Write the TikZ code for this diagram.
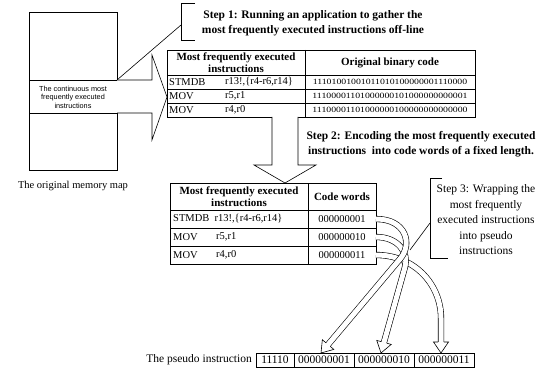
\documentclass[tikz,border=0pt]{standalone}
\usepackage{fontspec}
\setmainfont{Liberation Serif}
\setsansfont{Liberation Sans}
\usetikzlibrary{calc}
\tikzset{
  thin/.style={line width=0.6pt},
  frame/.style={line width=0.8pt},
  txt/.style={inner sep=0pt, font=\fontsize{10.5}{12}\selectfont},
  lefttxt/.style={txt, anchor=west},
  hdr/.style={inner sep=0pt, align=center, font=\bfseries\fontsize{11}{12.5}\selectfont},
  steptxt/.style={inner sep=0pt, align=center, font=\bfseries\fontsize{11.5}{15}\selectfont},
  bin/.style={inner sep=0pt},
  boxtxt/.style={inner sep=0pt, font=\fontsize{11.5}{12}\selectfont},
  hollow/.style={double=white, double distance=5pt, line width=0.6pt, shorten >=10.5pt},
}
\newcommand{\hollowhead}[2]{%
  \path ($(#2)!11pt!(#1)$) coordinate (hb);
  \filldraw[fill=white, line width=0.6pt]
    ($(hb)!2.8pt!90:(#2)$) -- ($(hb)!7.5pt!90:(#2)$) -- (#2) --
    ($(hb)!7.5pt!-90:(#2)$) -- ($(hb)!2.8pt!-90:(#2)$);
}
\newcommand{\binstr}[1]{\scalebox{1.22}[1]{\fontsize{8}{8}\selectfont #1}}
\begin{document}
\begin{tikzpicture}[x=1pt,y=-1pt]
\useasboundingbox (0,0) rectangle (539,369);

% ---------- memory map ----------
\coordinate (mmTL) at (29,12);
\coordinate (mmBR) at (117,170);
\coordinate (mmR1) at (117,80);
\coordinate (mmR2) at (117,113);
\draw[thin] (mmTL) rectangle (mmBR);
\draw[thin] (29,80) -- (mmR1);
\draw[thin] (29,113) -- (mmR2);
\node[inner sep=0pt, align=center, font=\sffamily\fontsize{7.3}{8.6}\selectfont] (mmtext) at (73,97)
  {The continuous most\\frequently executed\\instructions};
\node[txt] (mmlabel) at (73,186) {The original memory map};

% ---------- big right arrow ----------
\filldraw[thin, fill=white] (mmR1) -- (152,80) -- (152,55) -- (167,97) -- (152,140) -- (152,113) -- (mmR2);

% ---------- step 1 ----------
\coordinate (b1top) at (195,3);
\coordinate (b1bot) at (195,40);
\coordinate (b1call) at (181,25);
\draw[thin] (b1top) -- (181,3) -- (181,40) -- (b1bot);
\draw[thin] (mmR1) -- (b1call);
\node[steptxt] (step1) at (313,23)
  {Step 1: Running an application to gather the\\most frequently executed instructions off-line};

% ---------- table 1 ----------
\draw[frame] (167,50) rectangle (475,117);
\draw[thin] (305,50) -- (305,117);
\draw[thin] (167,75) -- (475,75);
\draw[thin] (167,89) -- (475,89);
\draw[thin] (167,103) -- (475,103);
\node[hdr] (t1h1) at (236,62.5) {Most frequently executed\\instructions};
\node[hdr] (t1h2) at (390,62.5) {Original binary code};
\node[lefttxt] (t1r1a) at (169,82) {STMDB};
\node[lefttxt] (t1r1b) at (225,82) {r13!,\{r4-r6,r14\}};
\node[lefttxt] (t1r2a) at (169,96) {MOV};
\node[lefttxt] (t1r2b) at (225,96) {r5,r1};
\node[lefttxt] (t1r3a) at (169,110) {MOV};
\node[lefttxt] (t1r3b) at (225,110) {r4,r0};
\node[bin] (t1c1) at (390,82) {\binstr{11101001001011010100000001110000}};
\node[bin] (t1c2) at (390,96) {\binstr{11100001101000000101000000000001}};
\node[bin] (t1c3) at (390,110) {\binstr{11100001101000000100000000000000}};

% ---------- big down arrow ----------
\filldraw[thin, fill=white] (272,117) -- (272,165) -- (254,165) -- (285,183) -- (316,165) -- (298,165) -- (298,117);

% ---------- step 2 ----------
\node[steptxt] (step2) at (421,144.5)
  {Step 2: Encoding the most frequently executed\\instructions\ \ into code words of a fixed length.};

% ---------- table 2 ----------
\draw[frame] (170,183) rectangle (376,264);
\draw[thin] (308,183) -- (308,264);
\draw[thin] (170,210) -- (376,210);
\draw[thin] (170,228) -- (376,228);
\draw[thin] (170,246) -- (376,246);
\node[hdr] (t2h1) at (239,196.5) {Most frequently executed\\instructions};
\node[hdr] (t2h2) at (342,196.5) {Code words};
\node[lefttxt] (t2r1a) at (173,219) {STMDB\ \ r13!,\{r4-r6,r14\}};
\node[lefttxt] (t2r2a) at (173,237) {MOV};
\node[lefttxt] (t2r2b) at (216,237) {r5,r1};
\node[lefttxt] (t2r3a) at (173,255) {MOV};
\node[lefttxt] (t2r3b) at (216,255) {r4,r0};
\node[txt] (cw1) at (342,219) {000000001};
\node[txt] (cw2) at (342,237) {000000010};
\node[txt] (cw3) at (342,255) {000000011};

% ---------- step 3 ----------
\coordinate (b3top) at (442,178);
\coordinate (b3bot) at (448,258);
\coordinate (b3call) at (430,223);
\coordinate (b3end) at (410,250);
\node[inner sep=0pt, align=center, font=\fontsize{11.5}{15.5}\selectfont] (step3) at (486,220)
  {Step 3: Wrapping the\\most frequently\\executed instructions\\into pseudo\\instructions};

% ---------- pseudo instruction ----------
\node[boxtxt, anchor=east] (pslabel) at (252,360) {The pseudo instruction};
\draw[thin] (256,353) rectangle (474,367);
\draw[thin] (294,353) -- (294,367);
\draw[thin] (354,353) -- (354,367);
\draw[thin] (414,353) -- (414,367);
\node[boxtxt] (p0) at (275,360) {11110};
\node[boxtxt] (p1) at (324,360) {000000001};
\node[boxtxt] (p2) at (384,360) {000000010};
\node[boxtxt] (p3) at (444,360) {000000011};

% ---------- curved hollow arrows ----------
\coordinate (s1) at (376,219);
\coordinate (s2) at (376,237);
\coordinate (s3) at (376,255);
\coordinate (k1) at (400,259);
\coordinate (k2) at (405,267);
\coordinate (k3) at (441,318);
\coordinate (e1) at (321,353);
\coordinate (e2) at (381,353);
\coordinate (e3) at (441,353);

\draw[hollow] (s3) .. controls (415,255) and (441,285) .. (k3) -- (e3);
\hollowhead{k3}{e3}
\draw[hollow] (s2) .. controls (398,237) and (409,252.5) .. (k2) -- (e2);
\hollowhead{k2}{e2}
\draw[hollow] (s1) .. controls (406,219) and (413,244) .. (k1) -- (e1);
\hollowhead{k1}{e1}

\draw[thin] (b3top) -- (430,178) -- (430,258) -- (b3bot);
\draw[thin] (b3call) -- (b3end);
\end{tikzpicture}
\end{document}
